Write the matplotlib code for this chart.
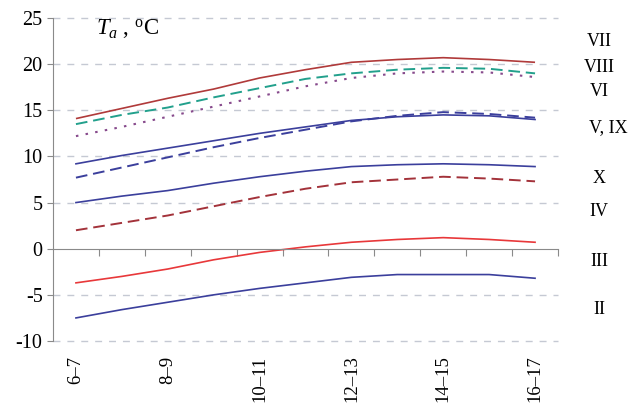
import numpy as np
import matplotlib
matplotlib.use("Agg")
import matplotlib.pyplot as plt
from matplotlib import transforms

plt.rcParams['font.family'] = ['Liberation Serif', 'DejaVu Serif']
plt.rcParams['mathtext.fontset'] = 'custom'
plt.rcParams['mathtext.rm'] = 'Liberation Serif'
plt.rcParams['mathtext.it'] = 'Liberation Serif:italic'
plt.rcParams['axes.unicode_minus'] = False

hours = ["6–7", "7–8", "8–9", "9–10", "10–11", "11–12", "12–13", "13–14", "14–15", "15–16", "16–17"]
tick_labels = ["6–7", "", "8–9", "", "10–11", "", "12–13", "", "14–15", "", "16–17"]

VII = [14.1, 15.2, 16.3, 17.3, 18.5, 19.4, 20.2, 20.5, 20.7, 20.5, 20.2]
VIII = [13.5, 14.5, 15.3, 16.4, 17.4, 18.4, 19.0, 19.4, 19.6, 19.5, 19.0]
VI = [12.2, 13.2, 14.3, 15.4, 16.5, 17.6, 18.5, 19.0, 19.2, 19.1, 18.6]
V = [9.2, 10.1, 10.9, 11.7, 12.5, 13.2, 13.9, 14.3, 14.5, 14.4, 14.0]
IX = [7.7, 8.8, 9.9, 11.0, 12.0, 12.9, 13.8, 14.4, 14.8, 14.6, 14.2]
X = [5.0, 5.7, 6.3, 7.1, 7.8, 8.4, 8.9, 9.1, 9.2, 9.1, 8.9]
IV = [2.0, 2.8, 3.6, 4.6, 5.6, 6.5, 7.2, 7.5, 7.8, 7.6, 7.3]
III = [-3.7, -3.0, -2.2, -1.2, -0.4, 0.2, 0.7, 1.0, 1.2, 1.0, 0.7]
II = [-7.5, -6.6, -5.8, -5.0, -4.3, -3.7, -3.1, -2.8, -2.8, -2.8, -3.2]

right_labels = ["VII", "VIII", "VI", "V, IX", "X", "IV", "III", "II"]

fig = plt.figure(figsize=(6.32, 4.05), dpi=100)
ax = fig.add_axes([53/632, 1-341/405, (558-53)/632, (341-18)/405])

x = np.arange(len(hours))
blue = '#3B3F9C'
lw = 1.2
ax.plot(x, VII, color='#B03A3A', lw=lw, solid_capstyle='butt')
ax.plot(x, VIII, color='#22A08C', lw=lw+0.2, dashes=(6, 3))
ax.plot(x, VI, color='#874A8C', lw=lw+0.3, dashes=(1.2, 3.5))
ax.plot(x, V, color=blue, lw=lw)
ax.plot(x, IX, color=blue, lw=lw+0.2, dashes=(6, 3))
ax.plot(x, X, color=blue, lw=lw)
ax.plot(x, IV, color='#A3323A', lw=lw+0.2, dashes=(6, 3))
ax.plot(x, III, color='#E8383A', lw=lw)
ax.plot(x, II, color=blue, lw=lw)

ax.set_xlim(-0.5, len(hours) - 0.5)
ax.set_ylim(-10, 25)
ax.set_yticks(np.arange(-10, 26, 5))
for yv in [-10, -5, 5, 10, 15, 20, 25]:
    ax.axhline(yv, color='#C5C9D3', lw=1.0, dashes=(5, 5), zorder=0, clip_on=False)

for s in ['top', 'right']:
    ax.spines[s].set_visible(False)
ax.spines['bottom'].set_position(('data', 0))
ax.spines['bottom'].set_color('#8A8A8A')
ax.spines['left'].set_color('#8A8A8A')
ax.set_xticks(np.arange(0.5, len(hours), 1))
ax.set_xticklabels([])
ax.tick_params(axis='x', direction='out', length=5, color='#8A8A8A')
ax.tick_params(axis='y', direction='out', length=4.5, color='#8A8A8A', labelsize=14.5, pad=3)

trans = transforms.blended_transform_factory(ax.transData, ax.transAxes)
for i, lab in enumerate(tick_labels):
    if lab:
        ax.text(i, -0.045, lab, transform=trans, rotation=90, ha='center', va='top', fontsize=13.5)

fig.text(96/632, 1-35/405, r'$T_a$ , $^{\rm o}$C', fontsize=16.5, ha='left', va='baseline')

label_y = [42, 67, 92, 128, 178, 212, 262, 310]
for lab, yy in zip(right_labels, label_y):
    if lab == "V, IX":
        fig.text(589/632, 1-yy/405, lab, fontsize=13, ha='left', va='center')
    else:
        fig.text(599/632, 1-yy/405, lab, fontsize=13, ha='center', va='center')

fig.savefig('out.png', dpi=100)
